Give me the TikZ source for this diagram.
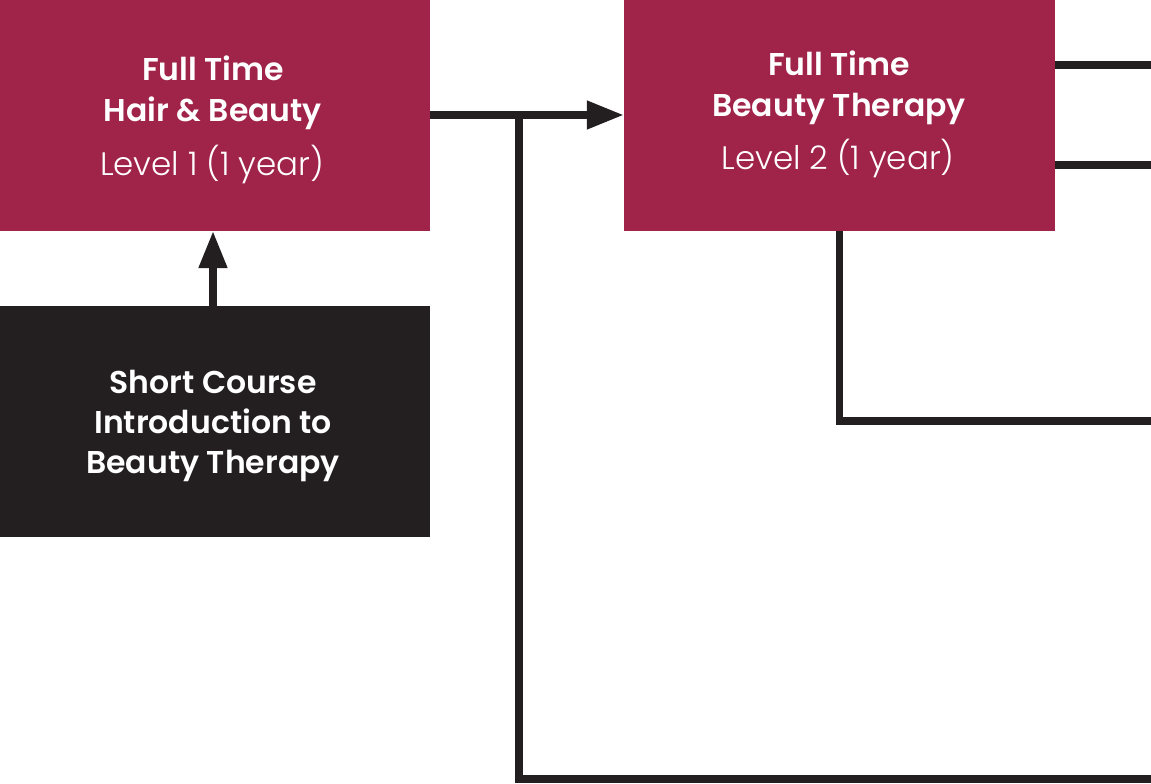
\documentclass[tikz,border=0pt]{standalone}
\usepackage{fontspec}
\setmainfont{Poppins}
\newfontfamily\poplight{Poppins Light}
\newfontfamily\popsemi{Poppins SemiBold}
\usetikzlibrary{arrows.meta}
\definecolor{crim}{RGB}{160,35,73}
\definecolor{ink}{RGB}{35,31,32}
\tikzset{
  boxc/.style={fill=crim, draw=none, inner sep=0pt},
  boxk/.style={fill=ink, draw=none, inner sep=0pt},
  ttl/.style={text=white, anchor=base, inner sep=0pt, font=\popsemi\fontsize{31.5}{40}\selectfont},
  lvl/.style={text=white, anchor=base, inner sep=0pt, font=\poplight\fontsize{32.5}{40}\selectfont},
  conn/.style={draw=ink, line width=7.5pt},
  tip/.style={-{Triangle[length=37pt,width=27pt]}}
}
\begin{document}
\begin{tikzpicture}[x=1pt,y=-1pt]
\path[use as bounding box] (0,0) rectangle (1151,784);
% boxes
\node[boxc, minimum width=430pt, minimum height=231pt] (b1) at (215,115.5) {};
\node[boxc, minimum width=431pt, minimum height=231pt] (b2) at (839.5,115.5) {};
\node[boxk, minimum width=430pt, minimum height=231pt] (b3) at (215,421.5) {};
% texts
\node[ttl] (t1a) at (213,81) {Full Time};
\node[ttl] (t1b) at (213,121) {Hair \& Beauty};
\node[lvl] (t1c) at (212,175) {Level 1 (1 year)};
\node[ttl] (t2a) at (839,76) {Full Time};
\node[ttl] (t2b) at (839,116) {Beauty Therapy};
\node[lvl] (t2c) at (838,169) {Level 2 (1 year)};
\node[ttl] (t3a) at (213,393) {Short Course};
\node[ttl] (t3b) at (213,433) {Introduction to};
\node[ttl] (t3c) at (213,473) {Beauty Therapy};
% coordinates
\coordinate (j1) at (519,115);
\coordinate (eB) at (1151,779);
\coordinate (r1) at (1151,65);
\coordinate (r2) at (1151,165);
\coordinate (r3) at (1151,421);
\coordinate (a1) at (213,231);
\coordinate (a0) at (213,306);
% connectors
\draw[conn, tip] (b1.east |- j1) -- (b2.west |- j1);
\draw[conn] (j1) |- (eB);
\draw[conn] (b2.east |- r1) -- (r1);
\draw[conn] (b2.east |- r2) -- (r2);
\draw[conn] (b2.south) |- (r3);
\draw[conn, tip] (a0) -- (a1);
\end{tikzpicture}
\end{document}
